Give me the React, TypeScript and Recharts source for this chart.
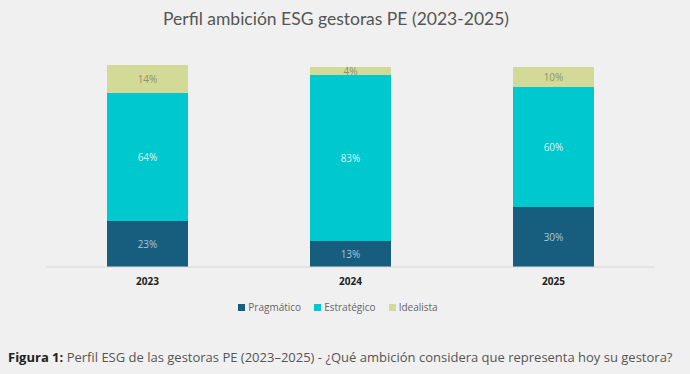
import { BarChart, Bar, XAxis, YAxis, LabelList } from 'recharts';

const years = ['2023', '2024', '2025'];
const pragmatico = [23, 13, 30];
const estrategico = [64, 83, 60];
const idealista = [14, 4, 10];

const series = [
    { key: 'pragmatico', name: 'Pragmático', color: '#175e7e', label: '#a9c6d6' },
    { key: 'estrategico', name: 'Estratégico', color: '#00c8cf', label: '#d9f5f6' },
    { key: 'idealista', name: 'Idealista', color: '#d3da97', label: '#8d9170' },
];

const data = years.map((year, i) => ({
    year,
    pragmatico: pragmatico[i],
    estrategico: estrategico[i],
    idealista: idealista[i],
}));

const font = '"Open Sans", sans-serif';

export default function App() {
    return (
        <div
            style={{
                position: 'fixed',
                left: 0,
                top: 0,
                width: 690,
                height: 374,
                background: '#f0f0f0',
                fontFamily: font,
                overflow: 'hidden',
            }}
        >
            <div
                style={{
                    position: 'absolute',
                    top: 8,
                    left: 0,
                    width: 672,
                    textAlign: 'center',
                    fontSize: 17.5,
                    color: '#555',
                    fontFamily: 'Lato, sans-serif',
                }}
            >
                Perfil ambición ESG gestoras PE (2023-2025)
            </div>
            <BarChart
                width={690}
                height={295}
                data={data}
                margin={{ top: 65, right: 35, left: 46, bottom: 8 }}
                style={{ position: 'absolute', top: 0, left: 0 }}
            >
                <XAxis
                    dataKey="year"
                    height={20}
                    tickLine={false}
                    tickMargin={5}
                    axisLine={{ stroke: '#d8d8d8' }}
                    tick={{ fontSize: 10, fontWeight: 700, fill: '#222', fontFamily: font }}
                />
                <YAxis hide domain={[0, 101]} />
                {series.map((s) => (
                    <Bar
                        key={s.key}
                        dataKey={s.key}
                        stackId="a"
                        fill={s.color}
                        barSize={81}
                        isAnimationActive={false}
                    >
                        <LabelList
                            dataKey={s.key}
                            position="center"
                            formatter={(v: number) => `${v}%`}
                            style={{ fontSize: 10, fill: s.label, fontFamily: font }}
                        />
                    </Bar>
                ))}
            </BarChart>
            <div
                style={{
                    position: 'absolute',
                    top: 300,
                    left: 0,
                    width: 676,
                    display: 'flex',
                    justifyContent: 'center',
                    gap: 13,
                    fontSize: 10,
                    color: '#666',
                }}
            >
                {series.map((s) => (
                    <div key={s.key} style={{ display: 'flex', alignItems: 'center', gap: 3 }}>
                        <span style={{ width: 7, height: 7, background: s.color, display: 'inline-block' }} />
                        <span>{s.name}</span>
                    </div>
                ))}
            </div>
            <div
                style={{
                    position: 'absolute',
                    top: 348,
                    left: 8,
                    fontSize: 13,
                    color: '#555',
                    whiteSpace: 'nowrap',
                }}
            >
                <b style={{ color: '#222' }}>Figura 1:</b> Perfil ESG de las gestoras PE (2023–2025) - ¿Qué ambición considera que representa hoy su gestora?
            </div>
        </div>
    );
}
